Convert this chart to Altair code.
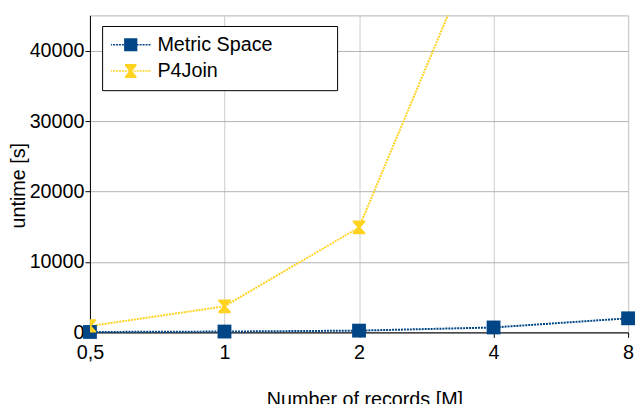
import altair as alt
import pandas as pd

# ---- data ----
x_values = [0.5, 1, 2, 4, 8]
x_labels = ["0,5", "1", "2", "4", "8"]
metric_x = [0.5, 1, 2, 4, 8]
metric_y = [60, 120, 250, 700, 2000]
p4_x = [0.5, 1, 2, 4]
p4_y = [900, 3700, 14900, 60500]
series = ["Metric Space", "P4Join"]
colors = ["#004586", "#ffd320"]
y_ticks = [0, 10000, 20000, 30000, 40000]
y_max = 45000

FONT = "Liberation Sans"

metric_df = pd.DataFrame({"x": metric_x, "y": metric_y, "series": series[0]})
p4_df = pd.DataFrame({"x": p4_x, "y": p4_y, "series": series[1]})
legend_df = pd.DataFrame({"series": series})

# ---- marker shapes ----
HOURGLASS = "M-0.9,-1H0.9V-0.75L0.2,0L0.9,0.75V1H-0.9V0.75L-0.2,0L-0.9,-0.75Z"


def _rect(x0, x1, y0, y1, s):
    return f"M{x0/s:.4f},{y0/s:.4f}H{x1/s:.4f}V{y1/s:.4f}H{x0/s:.4f}Z"


def _dots(s):
    parts = []
    x = -21.0
    while x < 20.5:
        parts.append(_rect(x, min(x + 2, 21), -0.8, 0.8, s))
        x += 3
    return "".join(parts)


S = 20.0  # legend symbol frame radius (size 1600 -> 40px)
legend_square = _dots(S) + _rect(-6.7, 6.7, -6.7, 6.7, S)
hg = 6.5
legend_hourglass = _dots(S) + (
    f"M{-0.9*hg/S:.4f},{-7/S:.4f}H{0.9*hg/S:.4f}V{-5.2/S:.4f}L{0.2*hg/S:.4f},0"
    f"L{0.9*hg/S:.4f},{5.2/S:.4f}V{7/S:.4f}H{-0.9*hg/S:.4f}V{5.2/S:.4f}"
    f"L{-0.2*hg/S:.4f},0L{-0.9*hg/S:.4f},{-5.2/S:.4f}Z"
)

label_expr = "".join(
    f"datum.value == {v} ? '{l}' : " for v, l in zip(x_values, x_labels)
) + "datum.label"

x_enc = alt.X(
    "x:Q",
    scale=alt.Scale(type="log", base=2, domain=[0.5, 8], nice=False),
    axis=alt.Axis(
        values=x_values,
        labelExpr=label_expr,
        title="Number of records [M]",
        gridColor="#cccccc",
        labelFlush=False,
        labelOverlap=False,
        labelPadding=5,
        titleX=278,
        titleY=74,
        titleBaseline="alphabetic",
    ),
)
y_enc = alt.Y(
    "y:Q",
    scale=alt.Scale(domain=[0, y_max], nice=False),
    axis=alt.Axis(
        values=y_ticks,
        format="d",
        title="untime [s]",
        gridColor="#b3b3b3",
        labelFlush=False,
        labelPadding=1,
        titleAngle=-90,
        titleX=-66.5,
        titleY=172,
        titleAlign="center",
        titleBaseline="alphabetic",
    ),
)

metric_line = alt.Chart(metric_df).mark_line(
    color=colors[0], strokeWidth=2, strokeDash=[2, 1]
).encode(x=x_enc, y=y_enc)
metric_pts = alt.Chart(metric_df).mark_point(
    shape="square", size=196, filled=True, opacity=1, color=colors[0]
).encode(x=x_enc, y=y_enc)

p4_line = alt.Chart(p4_df).mark_line(
    color=colors[1], strokeWidth=2, strokeDash=[2, 1], clip=True
).encode(x=x_enc, y=y_enc)
p4_pts = alt.Chart(p4_df).mark_point(
    shape=HOURGLASS, size=196, filled=True, opacity=1, color=colors[1], clip=True
).encode(x=x_enc, y=y_enc)

# invisible spacing so the legend frame is as wide as the reference's
pad = "\u00a0" * 10 + "\u200b"
leg = dict(
    title=None,
    titleOrient="bottom",
    orient="none",
    legendX=12.3,
    legendY=10.7,
    padding=9,
    clipHeight=20,
    rowPadding=6.6,
    symbolSize=1600,
    symbolStrokeWidth=0,
    symbolOffset=0,
    labelOffset=7,
    labelFontSize=20,
    labelFont=FONT,
    labelColor="black",
    labelLimit=400,
    labelExpr=f"datum.label + '{pad}'",
    strokeColor="black",
    fillColor="white",
)

legend_layer = alt.Chart(legend_df).transform_filter("false").mark_point(
    filled=True, opacity=1
).encode(
    color=alt.Color("series:N", scale=alt.Scale(domain=series, range=colors),
                    legend=alt.Legend(**leg)),
    shape=alt.Shape("series:N",
                    scale=alt.Scale(domain=series, range=[legend_square, legend_hourglass]),
                    legend=alt.Legend(**leg)),
)

chart = alt.layer(
    metric_line, p4_line, metric_pts, p4_pts, legend_layer
).properties(
    width=545,
    height=321,
    autosize=alt.AutoSizeParams(type="none"),
    padding={"left": 83, "top": 5, "right": 8, "bottom": 70},
).configure_view(
    stroke="#b3b3b3", strokeWidth=1
).configure_axis(
    labelFont=FONT,
    titleFont=FONT,
    labelColor="black",
    titleColor="black",
    labelFontSize=20,
    titleFontSize=20,
    titleFontWeight="normal",
    tickColor="black",
    domainColor="black",
    tickSize=5,
    gridWidth=1,
)

chart.save("out.html", embed_options={"renderer": "svg", "actions": False})
